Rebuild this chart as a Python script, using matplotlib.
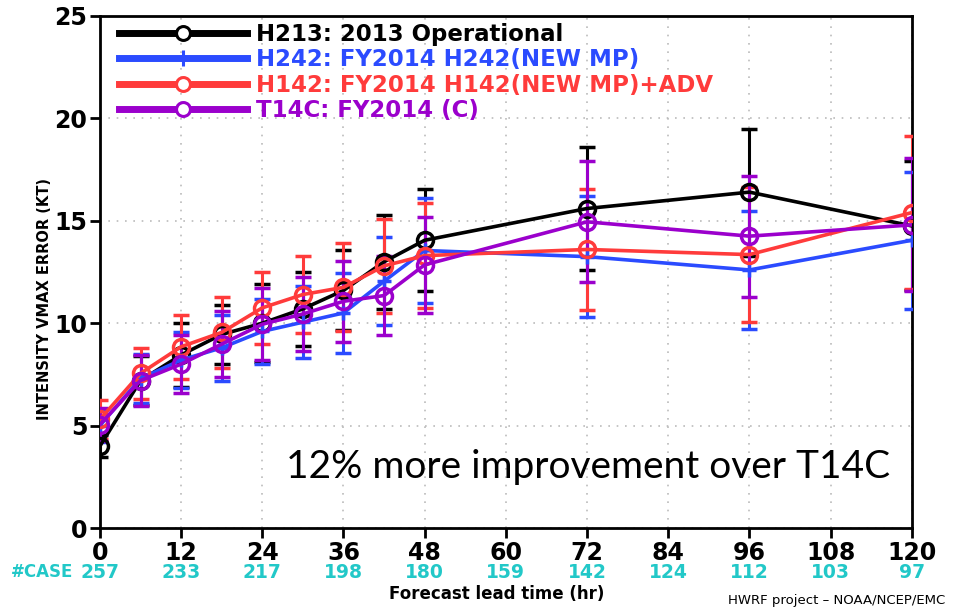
import numpy as np
import matplotlib
matplotlib.use('Agg')
import matplotlib.pyplot as plt
from matplotlib.lines import Line2D

# forecast lead times (hr)
hours = [0, 6, 12, 18, 24, 30, 36, 42, 48, 72, 96, 120]

# mean intensity error (kt) and half width of the error bar, per experiment
h213_mean = [4.0, 7.2, 8.45, 9.45, 10.0, 10.7, 11.6, 13.0, 14.05, 15.6, 16.4, 14.75]
h213_err = [0.55, 1.2, 1.55, 1.45, 1.9, 1.8, 1.95, 2.3, 2.5, 3.0, 3.1, 3.15]

h242_mean = [5.0, 7.3, 8.2, 8.8, 9.6, 10.05, 10.5, 12.05, 13.55, 13.25, 12.6, 14.05]
h242_err = [0.8, 1.2, 1.35, 1.6, 1.6, 1.75, 1.95, 2.15, 2.55, 2.95, 2.9, 3.35]

h142_mean = [5.3, 7.55, 8.85, 9.55, 10.75, 11.4, 11.75, 12.8, 13.3, 13.6, 13.35, 15.4]
h142_err = [0.95, 1.25, 1.55, 1.75, 1.75, 1.9, 2.15, 2.3, 2.55, 2.95, 3.3, 3.75]

t14c_mean = [5.05, 7.2, 8.0, 8.98, 9.95, 10.45, 11.07, 11.35, 12.85, 14.95, 14.25, 14.8]
t14c_err = [0.8, 1.25, 1.4, 1.6, 1.75, 1.8, 1.97, 1.95, 2.35, 2.95, 2.95, 3.25]

labels = ['H213: 2013 Operational',
          'H242: FY2014 H242(NEW MP)',
          'H142: FY2014 H142(NEW MP)+ADV',
          'T14C: FY2014 (C)']
colors = ['black', '#2b4bff', '#ff3b3b', '#9b00cc']
markers = ['o', '+', 'o', 'o']

# number of verified cases at each 12 h tick
case_hours = [0, 12, 24, 36, 48, 60, 72, 84, 96, 108, 120]
case_counts = [257, 233, 217, 198, 180, 159, 142, 124, 112, 103, 97]

cyan = '#22c8c8'

fig = plt.figure(figsize=(9.7, 6.1), dpi=100)
ax = fig.add_axes([0.103, 0.1344, 0.837, 0.8394])

means = [h213_mean, h242_mean, h142_mean, t14c_mean]
errs = [h213_err, h242_err, h142_err, t14c_err]
for m, e, c, mk in zip(means, errs, colors, markers):
    ax.errorbar(hours, m, yerr=e, color=c, lw=2.6, marker=mk, ms=11.5 if mk == 'o' else 10,
                mfc='none', mew=2.5, elinewidth=2.2, capsize=6, capthick=2.5, zorder=3)

ax.set_xlim(0, 120)
ax.set_ylim(0, 25)
ax.set_xticks(case_hours)
ax.set_yticks(np.arange(0, 26, 5))
ax.grid(True, color='#bbbbbb', linestyle=(0, (1, 4)), linewidth=1.2)
for s in ax.spines.values():
    s.set_linewidth(2)
ax.tick_params(direction='out', length=7, width=2, labelsize=17, pad=2)
for t in ax.get_xticklabels() + ax.get_yticklabels():
    t.set_fontweight('bold')

ax.text(-0.068, 0.447, 'INTENSITY VMAX ERROR (KT)', transform=ax.transAxes,
        rotation=90, ha='center', va='center', fontsize=10.5, fontweight='bold')
ax.text(58.6, -0.129, 'Forecast lead time (hr)', transform=ax.get_xaxis_transform(),
        ha='center', va='center', fontsize=12, fontweight='bold')

# case counts under the tick labels
for h, n in zip(case_hours, case_counts):
    ax.text(h, -0.086, str(n), transform=ax.get_xaxis_transform(), ha='center', va='center',
            color=cyan, fontsize=13.5, fontweight='bold')
ax.text(-4.0, -0.086, '#CASE', transform=ax.get_xaxis_transform(), ha='right', va='center',
        color=cyan, fontsize=12, fontweight='bold')

fig.text(0.975, 0.016, 'HWRF project \u2013 NOAA/NCEP/EMC', ha='right', va='center',
         fontsize=9.5)

ax.text(0.973, 0.12, '12% more improvement over T14C', transform=ax.transAxes,
        ha='right', va='center', fontsize=28, family=['Lato', 'DejaVu Sans'])

handles = [Line2D([], [], color=c, lw=5, marker=mk, ms=10 if mk == 'o' else 12,
                  mfc='white' if mk == 'o' else 'none', mew=2.2)
           for c, mk in zip(colors, markers)]
leg = ax.legend(handles, labels, loc='upper left', bbox_to_anchor=(0.012, 1.005),
                frameon=False, handlelength=5.6, handletextpad=0.4, labelspacing=0.11,
                borderaxespad=0.0, prop={'weight': 'bold', 'size': 16.5}, labelcolor=colors)

fig.savefig('out.png', dpi=100)
